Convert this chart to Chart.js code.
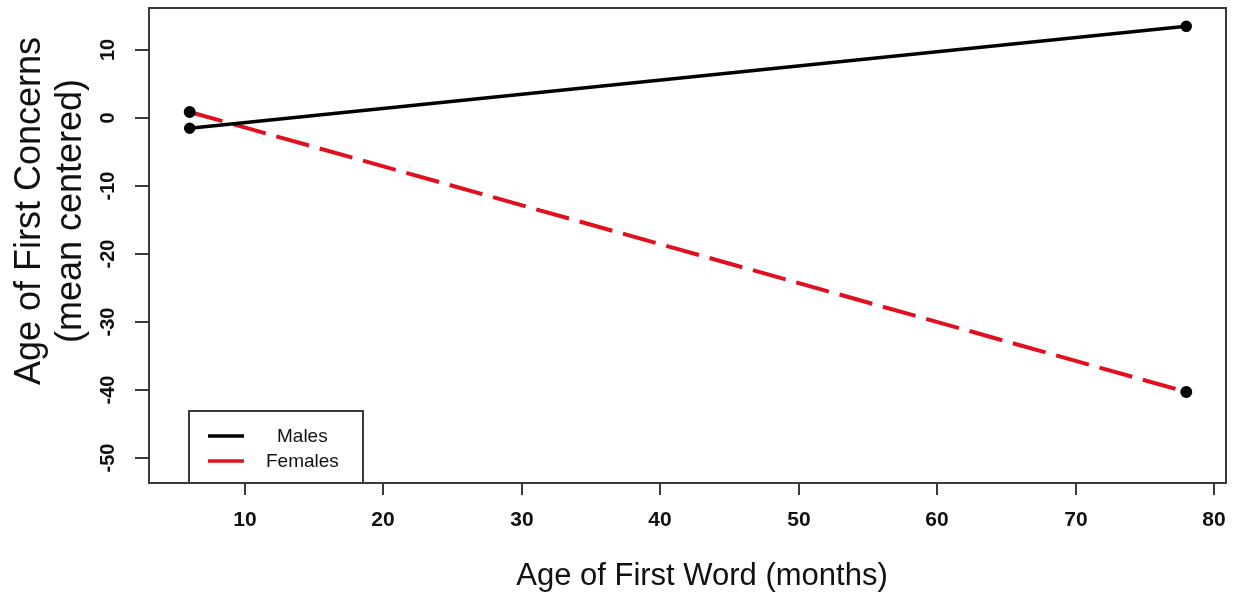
<!DOCTYPE html>
<html>
<head>
<meta charset="utf-8">
<script src="https://cdn.jsdelivr.net/npm/chart.js@4/dist/chart.umd.min.js"></script>
<style>
html,body{margin:0;padding:0;background:#fff;}
#wrap{width:1246px;height:600px;}
</style>
</head>
<body>
<div id="wrap"><canvas id="c" width="1246" height="600"></canvas></div>
<script>
const xValues = [6, 78];
const malesValues = [-1.5, 13.5];
const femalesValues = [0.9, -40.3];
const xTickValues = [10, 20, 30, 40, 50, 60, 70, 80];
const yTickValues = [10, 0, -10, -20, -30, -40, -50];
const seriesNames = ['Males', 'Females'];
const xTitle = 'Age of First Word (months)';
const yTitleLines = ['Age of First Concerns', '(mean centered)'];

const axisColor = '#3a3a3a';
const fam = '"Liberation Sans", Arial, sans-serif';

const rAxes = {
  id: 'rAxes',
  afterDraw(chart) {
    const ctx = chart.ctx;
    const xs = chart.scales.x, ys = chart.scales.y;
    const a = chart.chartArea;
    ctx.save();
    ctx.strokeStyle = axisColor;
    ctx.lineWidth = 2;
    ctx.strokeRect(a.left, a.top, a.right - a.left, a.bottom - a.top);
    ctx.fillStyle = '#111';
    ctx.textAlign = 'center';
    ctx.textBaseline = 'middle';
    ctx.font = 'bold 21px ' + fam;
    xTickValues.forEach(v => {
      const px = Math.round(xs.getPixelForValue(v));
      ctx.beginPath();
      ctx.moveTo(px, a.bottom);
      ctx.lineTo(px, a.bottom + 12);
      ctx.stroke();
      ctx.fillText(String(v), px, a.bottom + 37);
    });
    ctx.font = 'bold 20px ' + fam;
    yTickValues.forEach(v => {
      const py = Math.round(ys.getPixelForValue(v));
      ctx.beginPath();
      ctx.moveTo(a.left, py);
      ctx.lineTo(a.left - 14, py);
      ctx.stroke();
      ctx.save();
      ctx.translate(a.left - 41, py);
      ctx.rotate(-Math.PI / 2);
      ctx.fillText(String(v), 0, 0);
      ctx.restore();
    });
    ctx.fillStyle = '#111';
    ctx.font = '31px ' + fam;
    ctx.fillText(xTitle, 702, 576);
    ctx.font = '36px ' + fam;
    ctx.save();
    ctx.translate(30, 211);
    ctx.rotate(-Math.PI / 2);
    ctx.fillText(yTitleLines[0], 0, 0);
    ctx.fillText(yTitleLines[1], 0, 41);
    ctx.restore();
    // legend
    const lx = 189, ly = 411, lw = 174, lh = a.bottom - 411;
    ctx.fillStyle = '#fff';
    ctx.fillRect(lx, ly, lw, lh);
    ctx.strokeStyle = axisColor;
    ctx.lineWidth = 2;
    ctx.strokeRect(lx, ly, lw, lh);
    ctx.lineWidth = 3.5;
    ctx.strokeStyle = '#000';
    ctx.beginPath(); ctx.moveTo(208, 436); ctx.lineTo(244, 436); ctx.stroke();
    ctx.strokeStyle = '#e0101e';
    ctx.beginPath(); ctx.moveTo(208, 461); ctx.lineTo(244, 461); ctx.stroke();
    ctx.fillStyle = '#111';
    ctx.font = '19px ' + fam;
    ctx.textAlign = 'left';
    ctx.fillText(seriesNames[0], 277, 437);
    ctx.fillText(seriesNames[1], 266, 462);
    ctx.restore();
  }
};

new Chart(document.getElementById('c'), {
  type: 'line',
  data: {
    datasets: [
      {
        label: seriesNames[1],
        data: xValues.map((x, i) => ({x, y: femalesValues[i]})),
        borderColor: '#e0101e',
        borderWidth: 4,
        borderDash: [34, 11],
        pointRadius: 4,
        pointBackgroundColor: '#000',
        pointBorderColor: '#000',
        order: 2
      },
      {
        label: seriesNames[0],
        data: xValues.map((x, i) => ({x, y: malesValues[i]})),
        borderColor: '#000',
        borderWidth: 3.5,
        pointRadius: 4,
        pointBackgroundColor: '#000',
        pointBorderColor: '#000',
        order: 1
      }
    ]
  },
  options: {
    responsive: false,
    animation: false,
    layout: { padding: { left: 149, top: 8, right: 20, bottom: 117 } },
    plugins: { legend: { display: false }, tooltip: { enabled: false } },
    scales: {
      x: { type: 'linear', display: false, min: 3.06, max: 80.87 },
      y: { type: 'linear', display: false, min: -53.7, max: 16.2 }
    }
  },
  plugins: [rAxes]
});
</script>
</body>
</html>
